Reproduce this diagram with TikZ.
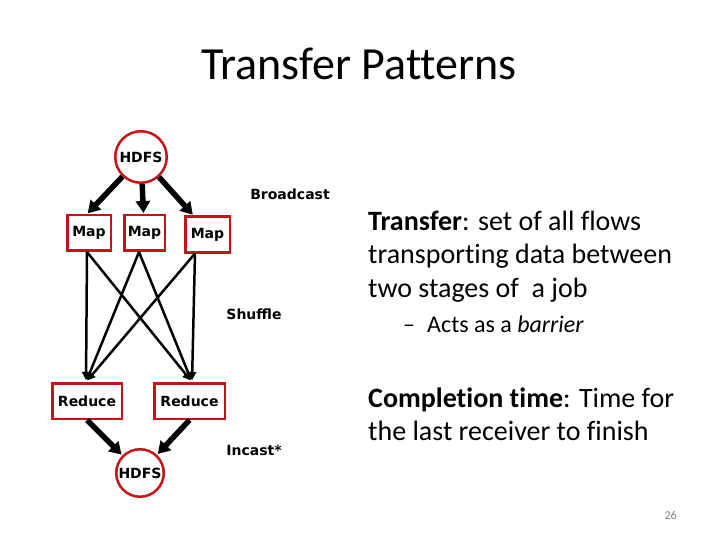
\documentclass[tikz,border=0pt]{standalone}
\usepackage{fontspec}
\setmainfont{Carlito}[Ligatures=NoCommon]
\newfontfamily\diagfont{DejaVu Sans}
\usetikzlibrary{arrows.meta}
\definecolor{boxred}{RGB}{195,20,25}
\tikzset{
    every edge/.style={draw},
    bcast/.style={line width=5.5bp, -{Triangle[length=12bp,width=14bp]}, shorten >=1bp},
    shuf/.style={line width=2.5bp, -{Triangle[length=8bp,width=8bp]}, shorten >=2bp},
    stage/.style={
        draw=boxred,
        line width=2.5bp,
        minimum height=35.5bp,
        inner sep=0pt,
        font=\diagfont\bfseries\fontsize{14bp}{14bp}\selectfont
    },
    store/.style={stage, circle},
    lbl/.style={inner sep=0pt, font=\diagfont\bfseries\fontsize{14bp}{14bp}\selectfont},
    txt/.style={anchor=base west, inner sep=0pt, font=\fontsize{28bp}{33bp}\selectfont},
    subtxt/.style={txt, font=\fontsize{24bp}{28bp}\selectfont}
}

\begin{document}
\begin{tikzpicture}[x=1bp,y=-1bp]
	\useasboundingbox (0,0) rectangle (720,540);
	\node[anchor=base, inner sep=0pt, font=\fontsize{46bp}{46bp}\selectfont] (title) at (359,80) {Transfer Patterns};
	% job stages
	\node[store, minimum size=51.5bp] (h0) at (141,157) {HDFS};
	\node[stage, minimum width=43.5bp] (m1) at (89,233) {Map};
	\node[stage, minimum width=40.5bp] (m2) at (144.5,233) {Map};
	\node[stage, minimum width=44.5bp] (m3) at (207.5,234.5) {Map};
	\node[stage, minimum width=69.5bp] (r1) at (87,401) {Reduce};
	\node[stage, minimum width=70.5bp] (r2) at (189.5,401) {Reduce};
	\node[store, minimum size=47.5bp] (h1) at (140,473) {HDFS};
	\node[lbl] (bc) at (290,194) {Broadcast};
	\node[lbl] (sh) at (254,314) {Shuffle};
	\node[lbl] (ic) at (254,450) {Incast*};
	\draw
	(h0) edge[bcast] ([xshift=-2bp]m1.north)
	(h0) edge[bcast] ([xshift=-1bp]m2.north)
	(h0) edge[bcast] ([xshift=-14bp]m3.north)
	([xshift=-2bp]m1.south) edge[shuf] ([xshift=-1bp]r1.north)
	([xshift=-2bp]m1.south) edge[shuf] ([xshift=2.5bp]r2.north)
	([xshift=-5.5bp]m2.south) edge[shuf] ([xshift=-1bp]r1.north)
	([xshift=-5.5bp]m2.south) edge[shuf] ([xshift=2.5bp]r2.north)
	([xshift=-12.5bp]m3.south) edge[shuf] ([xshift=-1bp]r1.north)
	([xshift=-12.5bp]m3.south) edge[shuf] ([xshift=2.5bp]r2.north)
	(r1.south) edge[bcast] (h1)
	(r2.south) edge[bcast] (h1);
	% definitions
	\node[txt] (tr1) at (368,231) {\textbf{Transfer}: set of all flows};
	\node[txt] (tr2) at (368,264) {transporting data between};
	\node[txt] (tr3) at (368,297) {two stages of \ a job};
	\node[subtxt] (dash) at (403,332) {–};
	\node[subtxt] (barr) at (427,332) {Acts as a \textit{barrier}};
	\node[txt] (ct1) at (368,407) {\textbf{Completion time}: Time for};
	\node[txt] (ct2) at (368,440) {the last receiver to finish};
	\node[anchor=base east, inner sep=0pt, text=gray, font=\fontsize{12bp}{12bp}\selectfont] (pg) at (677,519) {26};
\end{tikzpicture}
\end{document}
